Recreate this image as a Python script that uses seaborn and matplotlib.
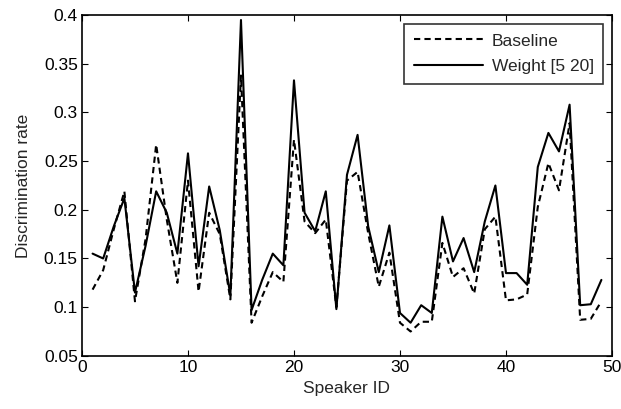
import pandas as pd
import seaborn as sns
import matplotlib
matplotlib.use("Agg")
import matplotlib.pyplot as plt
from matplotlib.ticker import FuncFormatter

# Values
speaker_id = list(range(1, 50))
baseline = [0.118, 0.138, 0.180, 0.219, 0.106, 0.170, 0.267, 0.190, 0.125, 0.230,
            0.116, 0.197, 0.175, 0.108, 0.338, 0.084, 0.111, 0.136, 0.126, 0.272,
            0.188, 0.176, 0.190, 0.100, 0.230, 0.239, 0.176, 0.121, 0.156, 0.084,
            0.075, 0.085, 0.085, 0.166, 0.131, 0.140, 0.114, 0.180, 0.193, 0.107,
            0.108, 0.113, 0.203, 0.248, 0.220, 0.289, 0.087, 0.088, 0.106]
weight = [0.155, 0.150, 0.183, 0.212, 0.115, 0.163, 0.219, 0.197, 0.155, 0.258,
          0.142, 0.224, 0.179, 0.112, 0.395, 0.097, 0.128, 0.155, 0.143, 0.333,
          0.197, 0.178, 0.219, 0.098, 0.236, 0.277, 0.183, 0.136, 0.184, 0.094,
          0.084, 0.102, 0.094, 0.193, 0.147, 0.171, 0.136, 0.188, 0.225, 0.135,
          0.135, 0.123, 0.244, 0.279, 0.260, 0.308, 0.102, 0.103, 0.128]
series_names = ["Baseline", "Weight [5 20]"]

df = pd.DataFrame({
    "Speaker ID": speaker_id * 2,
    "Discrimination rate": baseline + weight,
    "series": [series_names[0]] * len(baseline) + [series_names[1]] * len(weight),
})

sns.set_style("ticks")
plt.rcParams["font.family"] = ["Liberation Sans", "DejaVu Sans"]

fig = plt.figure(figsize=(6.21, 4.09), dpi=100)
ax = fig.add_axes([0.132, 0.13, 0.8535, 0.833])

sns.lineplot(data=df, x="Speaker ID", y="Discrimination rate", style="series",
             style_order=series_names, dashes={"Baseline": (3, 2), "Weight [5 20]": ""},
             color="black", linewidth=1.5, ax=ax)

ax.set_xlim(0, 50)
ax.set_ylim(0.05, 0.4)
ax.set_xticks(range(0, 51, 10))
ax.set_yticks([0.05, 0.1, 0.15, 0.2, 0.25, 0.3, 0.35, 0.4])
ax.yaxis.set_major_formatter(FuncFormatter(lambda v, p: "%g" % round(v, 2)))
ax.tick_params(direction="in", top=True, right=True, length=4, width=0.8,
               labelsize=12.5, colors="black", pad=3)
for s in ax.spines.values():
    s.set_linewidth(1.2)
    s.set_color("black")

ax.set_xlabel("Speaker ID", fontsize=12.5, labelpad=4)
ax.set_ylabel("Discrimination rate", fontsize=12.5, labelpad=9)

leg = ax.legend(loc="upper right", fontsize=12.5, frameon=True, fancybox=False,
                edgecolor="black", handlelength=4.0, borderaxespad=0.5,
                labelspacing=0.6, borderpad=0.55, handletextpad=0.5)
leg.get_frame().set_linewidth(1.2)
for line in leg.get_lines():
    line.set_color("black")

fig.savefig("out.png", dpi=100)
